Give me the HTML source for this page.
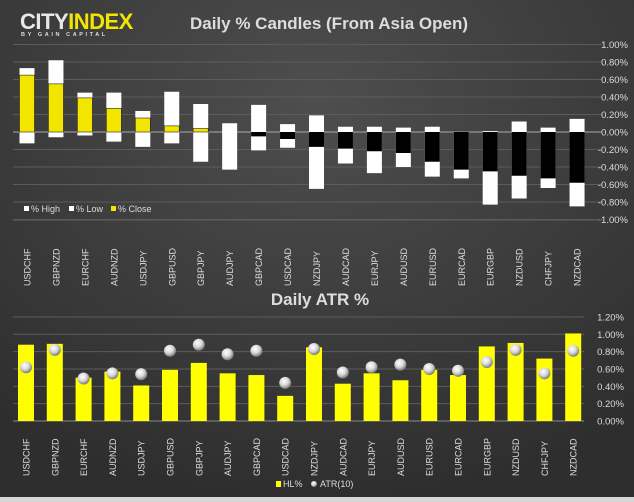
<!DOCTYPE html>
<html><head><meta charset="utf-8"><style>
html,body{margin:0;padding:0;background:#3a3a3a}
svg{display:block}
text{font-family:"Liberation Sans",sans-serif}
</style></head><body>
<svg id="s" width="634" height="502" xmlns="http://www.w3.org/2000/svg">
<defs>
<radialGradient id="bg" cx="0.5" cy="0.2" r="0.8">
<stop offset="0" stop-color="#4e4e4e"/><stop offset="1" stop-color="#2e2e2e"/></radialGradient>
<radialGradient id="ball" cx="0.4" cy="0.35" r="0.7">
<stop offset="0" stop-color="#ffffff"/><stop offset="0.5" stop-color="#d8d8d8"/><stop offset="1" stop-color="#6a6a6a"/></radialGradient>
</defs>
<rect width="634" height="502" fill="url(#bg)"/>
<text x="20" y="29" font-size="22" fill="#e8e8e8" font-weight="bold" letter-spacing="-0.5">CITY<tspan fill="#f2e600">INDEX</tspan></text>
<text x="21" y="36" font-size="5.5" fill="#ddd" font-weight="bold" letter-spacing="2.6">BY GAIN CAPITAL</text>
<text x="329" y="29" font-size="17" fill="#ddd" font-weight="bold" text-anchor="middle">Daily % Candles (From Asia Open)</text>
<text x="320" y="305" font-size="17" fill="#ddd" font-weight="bold" text-anchor="middle">Daily ATR %</text>
<g id="g"></g>
</svg>
<script>
var g=document.getElementById('g'),h='';
var n=['USDCHF','GBPNZD','EURCHF','AUDNZD','USDJPY','GBPUSD','GBPJPY','AUDJPY','GBPCAD','USDCAD','NZDJPY','AUDCAD','EURJPY','AUDUSD','EURUSD','EURCAD','EURGBP','NZDUSD','CHFJPY','NZDCAD'];
var hi=[.73,.82,.45,.45,.24,.46,.32,.1,.31,.09,.19,.06,.06,.05,.06,0,.01,.12,.05,.15];
var cl=[.65,.55,.39,.27,.16,.07,.04,0,-.05,-.08,-.17,-.19,-.22,-.24,-.34,-.43,-.45,-.5,-.53,-.58];
var lo=[-.13,-.06,-.04,-.11,-.17,-.13,-.34,-.43,-.21,-.18,-.65,-.36,-.47,-.4,-.51,-.53,-.83,-.76,-.64,-.85];
var hl=[.88,.89,.5,.57,.41,.59,.67,.55,.53,.29,.85,.43,.55,.47,.59,.53,.86,.9,.72,1.01];
var atr=[.62,.82,.49,.55,.54,.81,.88,.77,.81,.44,.83,.56,.62,.65,.6,.58,.68,.82,.55,.81];
var S=87.5,Z=132;
for(var i=0;i<=10;i++){var v=1-i*0.2,y=Z-v*S;
h+='<line x1="13" x2="602" y1="'+y+'" y2="'+y+'" stroke="#5c5c5c" stroke-width="1"/>';
h+='<text x="628" y="'+(y+3.5)+'" font-size="9.5" fill="#ddd" text-anchor="end">'+(v<-0.001?'-':'')+Math.abs(v).toFixed(2)+'%</text>';}
h+='<line x1="13" x2="602" y1="'+Z+'" y2="'+Z+'" stroke="#aaa" stroke-width="1"/>';
for(var i=0;i<20;i++){var x=27+i*28.95-7.5;
h+='<rect x="'+x+'" y="'+(Z-hi[i]*S)+'" width="15" height="'+((hi[i]-lo[i])*S)+'" fill="#fff"/>';
var c=cl[i];if(c>0)h+='<rect x="'+x+'" y="'+(Z-c*S)+'" width="15" height="'+(c*S)+'" fill="#f2e600" stroke="#222" stroke-width="0.6"/>';
else if(c<0)h+='<rect x="'+x+'" y="'+Z+'" width="15" height="'+(-c*S)+'" fill="#000"/>';
h+='<text transform="translate('+(27+i*28.95+3.5)+',286) rotate(-90)" font-size="9" fill="#ddd">'+n[i]+'</text>';}
h+='<rect x="24" y="206" width="5" height="5" fill="#fff"/><text x="31" y="212" font-size="9" fill="#ddd">% High</text>';
h+='<rect x="69" y="206" width="5" height="5" fill="#fff"/><text x="76" y="212" font-size="9" fill="#ddd">% Low</text>';
h+='<rect x="111" y="206" width="5" height="5" fill="#f2e600"/><text x="118" y="212" font-size="9" fill="#ddd">% Close</text>';
h+='<line x1="13" x2="602" y1="220" y2="220" stroke="#5c5c5c"/>';
// bottom
var B=421,S2=86.7;
for(var i=0;i<=6;i++){var v=i*0.2,y=B-v*S2;
h+='<line x1="13" x2="584" y1="'+y+'" y2="'+y+'" stroke="'+(i==0?'#888':'#5c5c5c')+'" stroke-width="1"/>';
h+='<text x="624" y="'+(y+3.5)+'" font-size="9.5" fill="#ddd" text-anchor="end">'+v.toFixed(2)+'%</text>';}
for(var i=0;i<20;i++){var cx=26+i*28.8;
h+='<rect x="'+(cx-8)+'" y="'+(B-hl[i]*S2)+'" width="16" height="'+(hl[i]*S2)+'" fill="#ffff00"/>';
h+='<circle cx="'+cx+'" cy="'+(B-atr[i]*S2)+'" r="6" fill="url(#ball)"/>';
h+='<text transform="translate('+(cx+3.5)+',476) rotate(-90)" font-size="9" fill="#ddd">'+n[i]+'</text>';}
h+='<rect x="276" y="481" width="5" height="6" fill="#ffff00"/><text x="283" y="487" font-size="9" fill="#ddd">HL%</text>';
h+='<circle cx="314" cy="484" r="3" fill="url(#ball)"/><text x="320" y="487" font-size="9" fill="#ddd">ATR(10)</text>';
h+='<rect x="0" y="497" width="634" height="5" fill="#d8d8d8"/>';
g.innerHTML=h;
</script>
</body></html>
